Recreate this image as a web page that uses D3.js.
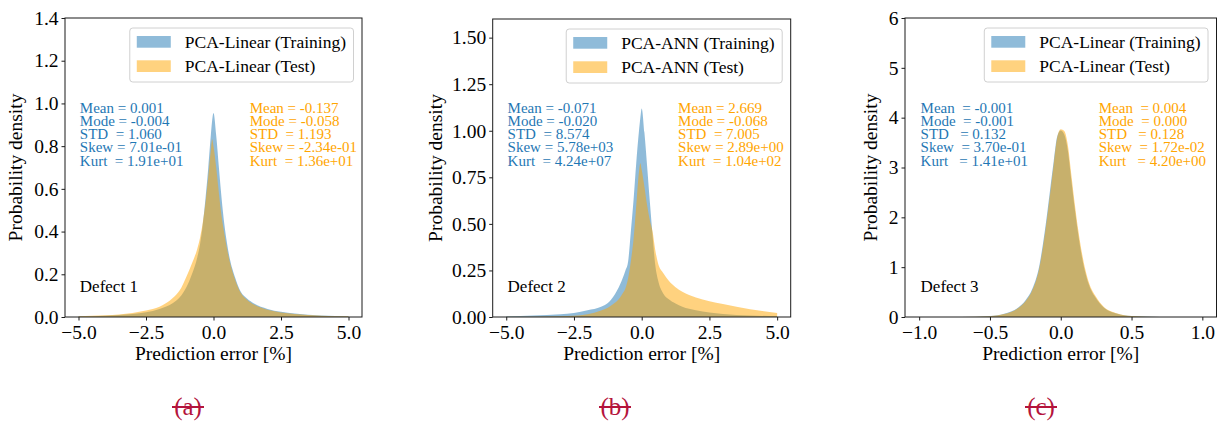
<!DOCTYPE html>
<html>
<head>
<meta charset="utf-8">
<script src="https://cdn.jsdelivr.net/npm/d3@7"></script>
<style>
  html, body { margin: 0; padding: 0; background: #fff; }
  svg { display: block; font-family: "Liberation Serif", "Times New Roman", serif; }
  text { white-space: pre; }
</style>
</head>
<body>
<svg id="fig" width="1218" height="424"></svg>
<script>
// ---- Defect 1: PCA-Linear prediction-error densities ----
const gridA  = [-5, -4, -3, -2.5, -2, -1.5, -1.25, -1, -0.8, -0.6, -0.5, -0.4, -0.3, -0.2, -0.1, -0.05, 0, 0.1, 0.2, 0.3, 0.4, 0.5, 0.6, 0.8, 1, 1.25, 1.5, 2, 2.5, 3, 4, 5];
const trainA = [0.003, 0.006, 0.014, 0.022, 0.038, 0.066, 0.092, 0.14, 0.2, 0.28, 0.34, 0.43, 0.55, 0.69, 0.85, 0.92, 0.955, 0.85, 0.70, 0.555, 0.435, 0.345, 0.275, 0.185, 0.12, 0.085, 0.063, 0.038, 0.024, 0.016, 0.007, 0.003];
const testA  = [0.004, 0.008, 0.019, 0.03, 0.048, 0.09, 0.125, 0.19, 0.25, 0.32, 0.37, 0.44, 0.53, 0.65, 0.78, 0.832, 0.80, 0.70, 0.58, 0.47, 0.39, 0.32, 0.26, 0.175, 0.115, 0.08, 0.058, 0.034, 0.021, 0.014, 0.006, 0.003];

// ---- Defect 2: PCA-ANN prediction-error densities ----
const gridB  = [-5, -4, -3, -2.5, -2, -1.5, -1.25, -1, -0.8, -0.7, -0.6, -0.5, -0.4, -0.3, -0.2, -0.1, -0.05, 0, 0.1, 0.2, 0.3, 0.4, 0.5, 0.6, 0.8, 1, 1.25, 1.5, 2, 2.5, 3, 4, 5];
const trainB = [0.004, 0.008, 0.015, 0.022, 0.036, 0.055, 0.075, 0.12, 0.175, 0.21, 0.25, 0.30, 0.46, 0.63, 0.83, 1.0, 1.07, 1.12, 0.99, 0.81, 0.62, 0.44, 0.28, 0.2, 0.125, 0.095, 0.072, 0.055, 0.036, 0.024, 0.016, 0.008, 0.005];
const testB  = [0.001, 0.002, 0.004, 0.007, 0.015, 0.035, 0.05, 0.075, 0.105, 0.128, 0.155, 0.21, 0.30, 0.42, 0.60, 0.78, 0.825, 0.79, 0.70, 0.60, 0.52, 0.46, 0.36, 0.29, 0.235, 0.195, 0.16, 0.135, 0.105, 0.085, 0.07, 0.042, 0.022];

// ---- Defect 3: PCA-Linear prediction-error densities ----
const gridC  = [-1, -0.7, -0.5, -0.4, -0.3, -0.25, -0.2, -0.15, -0.125, -0.1, -0.075, -0.05, -0.025, 0, 0.025, 0.05, 0.075, 0.1, 0.125, 0.15, 0.2, 0.25, 0.3, 0.4, 0.5, 0.7, 1];
const trainC = [0, 0.002, 0.02, 0.064, 0.19, 0.33, 0.57, 1.05, 1.48, 1.99, 2.56, 3.12, 3.62, 3.74, 3.66, 3.34, 2.74, 2.15, 1.63, 1.2, 0.64, 0.37, 0.2, 0.064, 0.019, 0.002, 0];
const testC  = [0, 0.001, 0.017, 0.058, 0.18, 0.31, 0.54, 1.0, 1.41, 1.91, 2.47, 3.05, 3.60, 3.77, 3.73, 3.45, 2.85, 2.25, 1.72, 1.28, 0.68, 0.40, 0.215, 0.07, 0.02, 0.002, 0];

// ---- Tick values and labels ----
const xTicksAB      = [-5, -2.5, 0, 2.5, 5];
const xTickLabelsAB = ["\u22125.0", "\u22122.5", "0.0", "2.5", "5.0"];
const xTicksC       = [-1, -0.5, 0, 0.5, 1];
const xTickLabelsC  = ["\u22121.0", "\u22120.5", "0.0", "0.5", "1.0"];
const yTicksA       = [0, 0.2, 0.4, 0.6, 0.8, 1.0, 1.2, 1.4];
const yTickLabelsA  = ["0.0", "0.2", "0.4", "0.6", "0.8", "1.0", "1.2", "1.4"];
const yTicksB       = [0, 0.25, 0.5, 0.75, 1.0, 1.25, 1.5];
const yTickLabelsB  = ["0.00", "0.25", "0.50", "0.75", "1.00", "1.25", "1.50"];
const yTicksC       = [0, 1, 2, 3, 4, 5, 6];
const yTickLabelsC  = ["0", "1", "2", "3", "4", "5", "6"];

// ---- Legend entries and summary statistics ----
const legendA = ["PCA-Linear (Training)", "PCA-Linear (Test)"];
const legendB = ["PCA-ANN (Training)", "PCA-ANN (Test)"];
const legendC = ["PCA-Linear (Training)", "PCA-Linear (Test)"];
const statsTrainA = ["Mean = 0.001", "Mode = -0.004", "STD  = 1.060", "Skew = 7.01e-01", "Kurt  = 1.91e+01"];
const statsTestA  = ["Mean = -0.137", "Mode = -0.058", "STD  = 1.193", "Skew = -2.34e-01", "Kurt  = 1.36e+01"];
const statsTrainB = ["Mean = -0.071", "Mode = -0.020", "STD  = 8.574", "Skew = 5.78e+03", "Kurt  = 4.24e+07"];
const statsTestB  = ["Mean = 2.669", "Mode = -0.068", "STD  = 7.005", "Skew = 2.89e+00", "Kurt  = 1.04e+02"];
const statsTrainC = ["Mean  = -0.001", "Mode  = -0.001", "STD   = 0.132", "Skew  = 3.70e-01", "Kurt   = 1.41e+01"];
const statsTestC  = ["Mean  = 0.004", "Mode  = 0.000", "STD   = 0.128", "Skew  = 1.72e-02", "Kurt   = 4.20e+00"];
const defectLabels = ["Defect 1", "Defect 2", "Defect 3"];
const captions = ["(a)", "(b)", "(c)"];

// ---- Styling ----
const BLUE = "#1f77b4";
const ORANGE = "#ffa500";
const CAPTION = "#b4143c";
const TICK_FONT = 19.5;

const panels = [
  { box: {l: 65, r: 362, t: 18, b: 317}, xDomain: [-5.5, 5.5], yDomain: [0, 1.4],
    xTicks: xTicksAB, xLabels: xTickLabelsAB, yTicks: yTicksA, yLabels: yTickLabelsA,
    grid: gridA, train: trainA, test: testA, legend: legendA,
    statsTrain: statsTrainA, statsTest: statsTestA, defect: defectLabels[0],
    caption: captions[0], captionX: 188, ylabelX: 22 },
  { box: {l: 492.7, r: 790.7, t: 19, b: 317}, xDomain: [-5.5, 5.5], yDomain: [0, 1.6],
    xTicks: xTicksAB, xLabels: xTickLabelsAB, yTicks: yTicksB, yLabels: yTickLabelsB,
    grid: gridB, train: trainB, test: testB, legend: legendB,
    statsTrain: statsTrainB, statsTest: statsTestB, defect: defectLabels[1],
    caption: captions[1], captionX: 615, ylabelX: 442 },
  { box: {l: 905, r: 1216.5, t: 18, b: 317}, xDomain: [-1.1, 1.1], yDomain: [0, 6],
    xTicks: xTicksC, xLabels: xTickLabelsC, yTicks: yTicksC, yLabels: yTickLabelsC,
    grid: gridC, train: trainC, test: testC, legend: legendC,
    statsTrain: statsTrainC, statsTest: statsTestC, defect: defectLabels[2],
    caption: captions[2], captionX: 1041, ylabelX: 877 }
];

const svg = d3.select("#fig");

panels.forEach(p => {
  const {l, r, t, b} = p.box;
  const W = r - l, H = b - t;
  const x = d3.scaleLinear().domain(p.xDomain).range([l, r]);
  const y = d3.scaleLinear().domain(p.yDomain).range([b, t]);
  const g = svg.append("g");

  // density areas: training first, test drawn over it
  const area = d3.area()
    .x(d => x(d[0]))
    .y0(y(0))
    .y1(d => y(d[1]))
    .curve(d3.curveMonotoneX);
  const clipId = "clip" + p.caption.replace(/[()]/g, "");
  g.append("clipPath").attr("id", clipId)
    .append("rect").attr("x", l).attr("y", t).attr("width", W).attr("height", H);
  const plot = g.append("g").attr("clip-path", `url(#${clipId})`);
  plot.append("path")
    .datum(p.grid.map((v, i) => [v, p.train[i]]))
    .attr("d", area).attr("fill", BLUE).attr("fill-opacity", 0.5);
  plot.append("path")
    .datum(p.grid.map((v, i) => [v, p.test[i]]))
    .attr("d", area).attr("fill", ORANGE).attr("fill-opacity", 0.5);

  // axes
  const xAxis = d3.axisBottom(x).tickValues(p.xTicks)
    .tickFormat((d, i) => p.xLabels[i]).tickSize(3.5).tickSizeOuter(0).tickPadding(4.5);
  const yAxis = d3.axisLeft(y).tickValues(p.yTicks)
    .tickFormat((d, i) => p.yLabels[i]).tickSize(3.5).tickSizeOuter(0).tickPadding(3);
  const gx = g.append("g").attr("transform", `translate(0,${b})`).call(xAxis);
  const gy = g.append("g").attr("transform", `translate(${l},0)`).call(yAxis);
  [gx, gy].forEach(ax => {
    ax.select(".domain").remove();
    ax.selectAll(".tick line").attr("stroke", "#000").attr("stroke-width", 0.9);
    ax.selectAll(".tick text").attr("fill", "#000")
      .style("font-family", '"Liberation Serif", serif').style("font-size", TICK_FONT + "px");
  });

  // frame
  g.append("rect").attr("x", l).attr("y", t).attr("width", W).attr("height", H)
    .attr("fill", "none").attr("stroke", "#1a1a1a").attr("stroke-width", 1);

  // axis titles
  g.append("text").attr("x", (l + r) / 2).attr("y", 360)
    .attr("text-anchor", "middle").style("font-size", "19.5px").attr("fill", "#000")
    .text("Prediction error [%]");
  g.append("text")
    .attr("transform", `translate(${p.ylabelX},${(t + b) / 2}) rotate(-90)`)
    .attr("text-anchor", "middle").style("font-size", "19.5px").attr("fill", "#000")
    .text("Probability density");

  // legend
  const lg = g.append("g");
  const texts = p.legend.map((s, i) => lg.append("text")
    .attr("y", t + 10 + 19.7 + i * 24.3).style("font-size", "17.5px").attr("fill", "#000").text(s));
  const tw = d3.max(texts, tx => tx.node().getComputedTextLength());
  const boxW = 55 + tw + 7.5;
  const bx = r - 8.5 - boxW, by = t + 10;
  lg.insert("rect", "text").attr("x", bx).attr("y", by).attr("width", boxW).attr("height", 54)
    .attr("rx", 3).attr("fill", "#fff").attr("fill-opacity", 0.8)
    .attr("stroke", "#d0d0d0").attr("stroke-width", 1);
  texts.forEach(tx => tx.attr("x", bx + 55));
  [BLUE, ORANGE].forEach((c, i) => {
    lg.insert("rect", "text").attr("x", bx + 7).attr("y", by + 8 + i * 24.3)
      .attr("width", 34).attr("height", 11.7).attr("fill", c).attr("fill-opacity", 0.5);
  });

  // summary statistics: one multi-line text block per series
  const statBlock = (lines, fx, color) => {
    const x0 = l + fx * W;
    const tb = g.append("text").attr("x", x0).attr("y", 112.5)
      .style("font-size", "15px").attr("fill", color);
    lines.forEach((s, i) => {
      tb.append("tspan").attr("x", x0).attr("y", 112.5 + i * 13.3).text(s);
    });
  };
  statBlock(p.statsTrain, 0.05, BLUE);
  statBlock(p.statsTest, 0.622, ORANGE);

  // defect tag
  g.append("text").attr("x", l + 0.05 * W).attr("y", 292.3)
    .style("font-size", "17px").attr("fill", "#000").text(p.defect);

  // sub-figure caption, struck through
  g.append("text").attr("x", p.captionX).attr("y", 415)
    .attr("text-anchor", "middle").style("font-size", "25px").attr("fill", CAPTION)
    .text(p.caption);
  g.append("line").attr("x1", p.captionX - 16).attr("x2", p.captionX + 16)
    .attr("y1", 407).attr("y2", 407).attr("stroke", CAPTION).attr("stroke-width", 2);
});
</script>
</body>
</html>
